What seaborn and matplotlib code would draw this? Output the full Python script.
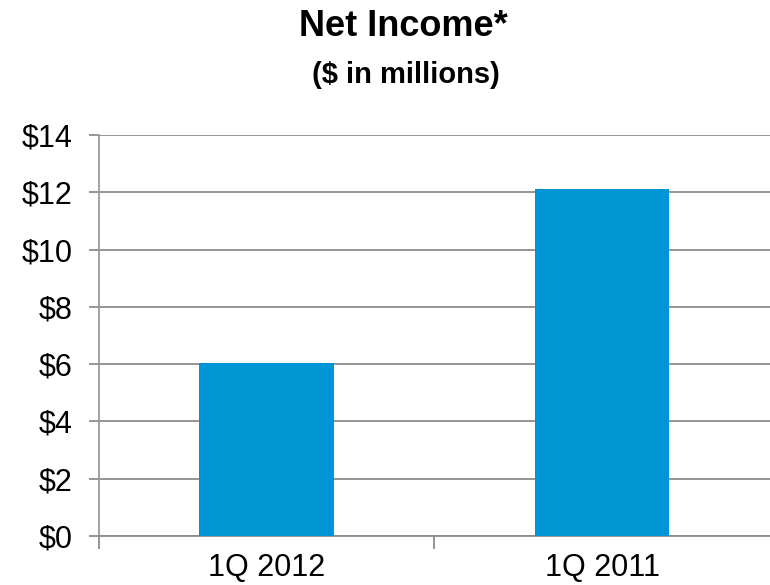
import matplotlib
matplotlib.use("Agg")
import matplotlib.pyplot as plt
import seaborn as sns
import pandas as pd

categories = ["1Q 2012", "1Q 2011"]
net_income = [6.05, 12.12]
y_ticks = [0, 2, 4, 6, 8, 10, 12, 14]
y_tick_labels = ["$0", "$2", "$4", "$6", "$8", "$10", "$12", "$14"]

sns.set_theme(style="white")
plt.rcParams['font.family'] = ['Liberation Sans', 'DejaVu Sans']
plt.rcParams['text.color'] = 'black'

df = pd.DataFrame({"period": categories, "value": net_income})

fig = plt.figure(figsize=(7.7, 5.85), dpi=100)
ax = fig.add_axes([0.128, 0.084, 0.872, 0.685])

sns.barplot(data=df, x="period", y="value", color="#0095D5", saturation=1,
            width=0.4, ax=ax, zorder=3, edgecolor="none", linewidth=0)

ax.set_ylim(0, 14)
ax.set_xlim(-0.5, 1.5)
ax.set_yticks(y_ticks)
ax.set_yticklabels(y_tick_labels)
ax.yaxis.grid(True, color="#8c8c8c", linewidth=1.3, zorder=0)
ax.set_axisbelow(True)
ax.set_xlabel("")
ax.set_ylabel("")

for s in ["top", "right"]:
    ax.spines[s].set_visible(False)
ax.spines["left"].set_color("#9a9a9a")
ax.spines["left"].set_linewidth(1.3)
ax.spines["bottom"].set_color("#8c8c8c")
ax.spines["bottom"].set_linewidth(1.3)

ax.tick_params(axis="y", which="major", length=7.5, width=1.3, color="#8c8c8c",
               labelsize=22, pad=11, left=True, labelcolor="black")
ax.set_xticks([0, 1])
ax.set_xticklabels(categories)
ax.tick_params(axis="x", which="major", length=0, labelsize=22, pad=12, labelcolor="black")
ax.set_xticks([-0.5, 0.5], minor=True)
ax.tick_params(axis="x", which="minor", length=9, width=1.3, color="#8c8c8c", bottom=True)

fig.text(0.524, 0.954, "Net Income*", ha="center", va="center", fontsize=26,
         fontweight="bold", color="black")
fig.text(0.527, 0.872, "($ in millions)", ha="center", va="center", fontsize=21,
         fontweight="bold", color="black")

fig.savefig("out.png", dpi=100)
